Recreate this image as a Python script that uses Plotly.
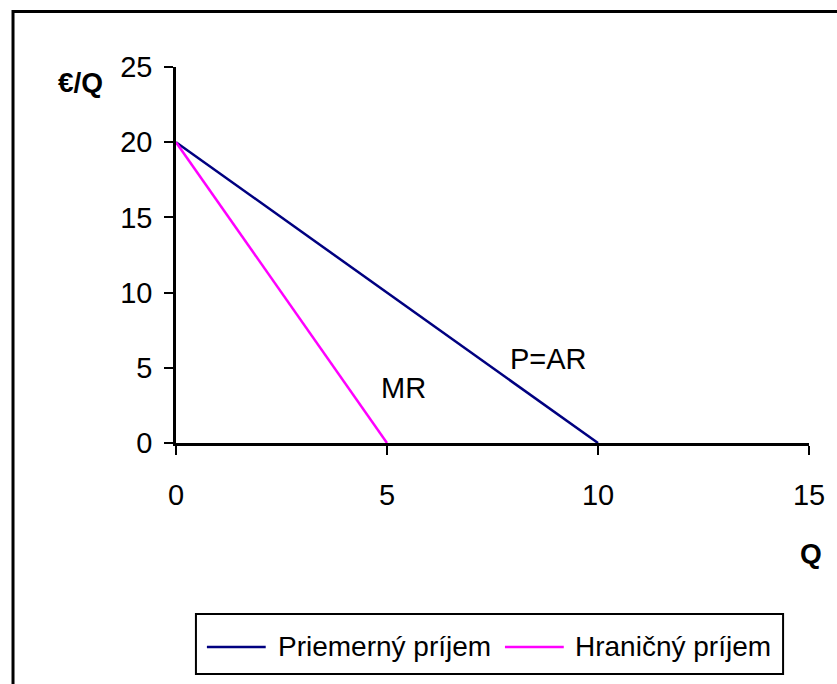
import plotly.graph_objects as go

# Demand (average revenue) and marginal revenue schedules
q_ar = [0, 1, 2, 3, 4, 5, 6, 7, 8, 9, 10]
p_ar = [20, 18, 16, 14, 12, 10, 8, 6, 4, 2, 0]
q_mr = [0, 1, 2, 3, 4, 5]
p_mr = [20, 16, 12, 8, 4, 0]

x_ticks = [0, 5, 10, 15]
y_ticks = [0, 5, 10, 15, 20, 25]

series_names = ["Priemerný príjem", "Hraničný príjem"]
series_colors = ["#000080", "#FF00FF"]

W, H = 837, 684
ML, MR_, MT, MB = 176, 26, 67, 241
PW, PH = W - ML - MR_, H - MT - MB
FONT = "Liberation Sans, Arial, sans-serif"
FS = 28


def px(x):
    return (x - ML) / PW


def py(y):
    return (H - MB - y) / PH


fig = go.Figure()
fig.add_trace(go.Scatter(x=q_ar, y=p_ar, mode="lines", name=series_names[0],
                         line=dict(color=series_colors[0], width=2.5),
                         showlegend=False, cliponaxis=False))
fig.add_trace(go.Scatter(x=q_mr, y=p_mr, mode="lines", name=series_names[1],
                         line=dict(color=series_colors[1], width=2.5),
                         showlegend=False, cliponaxis=False))

shapes = [
    # outer chart frame
    dict(type="rect", xref="paper", yref="paper",
         x0=px(12.5), x1=px(900), y0=py(800), y1=py(11.5),
         line=dict(color="black", width=3), layer="below"),
    # legend frame
    dict(type="rect", xref="paper", yref="paper",
         x0=px(196), x1=px(785), y0=py(674), y1=py(614),
         line=dict(color="black", width=2), fillcolor="white"),
]
annotations = [
    dict(text="MR", x=4.8, y=3.65, xref="x", yref="y", xanchor="left",
         yanchor="middle", showarrow=False, font=dict(size=FS + 1, color="black", family=FONT)),
    dict(text="P=AR", x=7.87, y=5.6, xref="x", yref="y", xanchor="left",
         yanchor="middle", showarrow=False, font=dict(size=FS + 1, color="black", family=FONT)),
    dict(text="<b>€/Q</b>", x=px(80), y=py(83), xref="paper", yref="paper",
         xanchor="center", yanchor="middle", showarrow=False,
         font=dict(size=FS, color="black", family=FONT)),
    dict(text="<b>Q</b>", x=px(813), y=py(553), xref="paper", yref="paper",
         xanchor="center", yanchor="middle", showarrow=False,
         font=dict(size=FS, color="black", family=FONT)),
]

# legend entries: sample line + label
legend_items = [(207, 266, 276), (506, 565, 574)]
for (lx0, lx1, tx), name, color in zip(legend_items, series_names, series_colors):
    shapes.append(dict(type="line", xref="paper", yref="paper",
                       x0=px(lx0), x1=px(lx1), y0=py(647), y1=py(647),
                       line=dict(color=color, width=2.5)))
    annotations.append(dict(text=name, x=px(tx), y=py(646), xref="paper", yref="paper",
                            xanchor="left", yanchor="middle", showarrow=False,
                            font=dict(size=FS, color="black", family=FONT)))

fig.update_layout(
    width=W, height=H,
    margin=dict(l=ML, r=MR_, t=MT, b=MB, pad=0),
    paper_bgcolor="white", plot_bgcolor="white",
    font=dict(family=FONT, size=FS, color="black"),
    shapes=shapes, annotations=annotations,
    showlegend=False,
)
fig.update_xaxes(range=[0, 15], tickvals=x_ticks, showgrid=False, zeroline=False,
                 showline=True, linecolor="black", linewidth=2.5,
                 ticks="outside", ticklen=9, tickwidth=2, tickcolor="black",
                 ticklabelstandoff=15, tickfont=dict(size=FS + 1))
fig.update_yaxes(range=[0, 25], tickvals=y_ticks, showgrid=False, zeroline=False,
                 showline=True, linecolor="black", linewidth=2.5,
                 ticks="outside", ticklen=9, tickwidth=2, tickcolor="black",
                 ticklabelstandoff=6, tickfont=dict(size=FS + 1))

fig.write_html("out.html")
